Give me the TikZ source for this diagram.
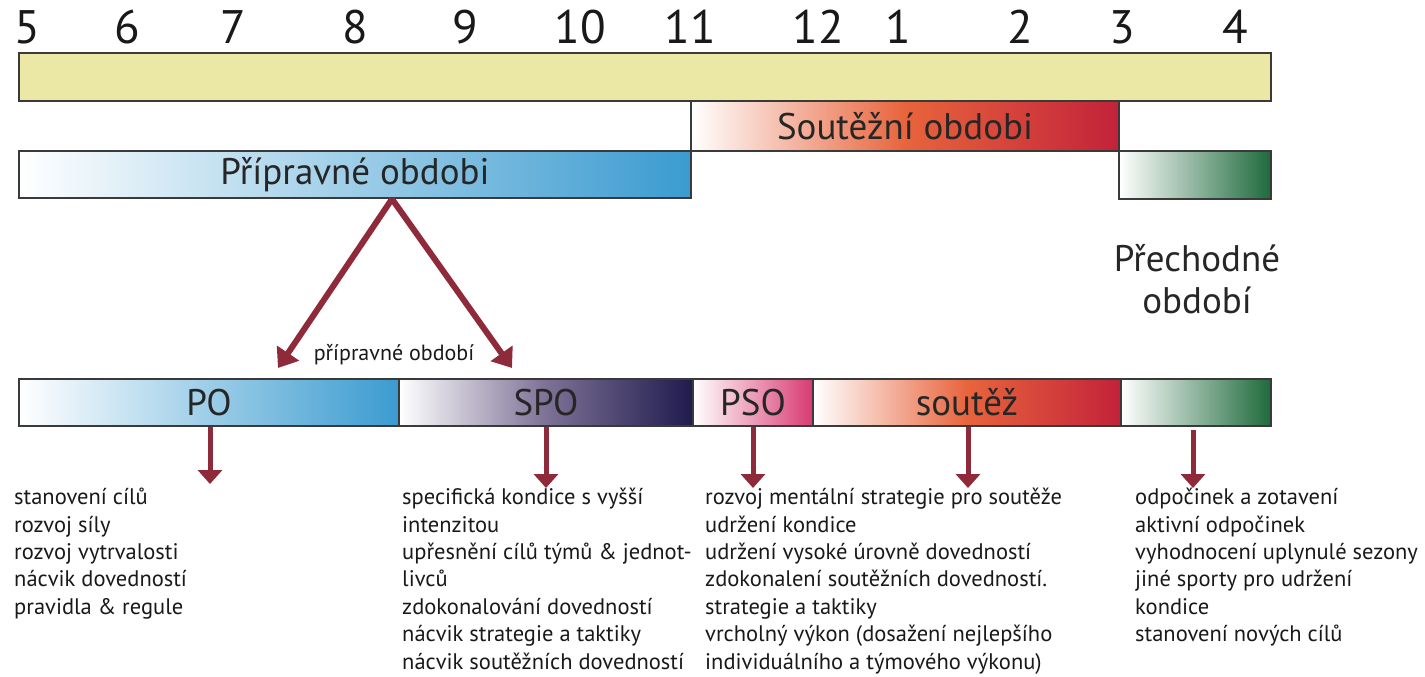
\documentclass[tikz,border=0pt]{standalone}
\usepackage{fontspec}
\setmainfont{PT Sans}
\usetikzlibrary{arrows.meta}
\definecolor{barline}{HTML}{3A3A3A}
\definecolor{yearfill}{HTML}{EBE7A4}
\definecolor{prepblue}{HTML}{3A9BD0}
\definecolor{spcnavy}{HTML}{1F1B4D}
\definecolor{spcmid}{HTML}{7D7196}
\definecolor{psopink}{HTML}{D93A72}
\definecolor{compor}{HTML}{E8643C}
\definecolor{compred}{HTML}{C2223A}
\definecolor{transgreen}{HTML}{1E6A3C}
\definecolor{arrred}{HTML}{8E2A3A}
\tikzset{
  bar/.style={draw=barline, line width=2pt, inner sep=0pt, anchor=north west,
    text=black!85, font=\fontsize{37}{42}\selectfont},
  month/.style={font=\fontsize{47}{52}\selectfont, text=black!90},
  % arrows from the preparation bar and down to the lists
  darr/.style={arrred, line width=6pt, -{Triangle[width=26pt,length=18pt]}},
  sarr/.style={arrred, line width=5pt, -{Triangle[width=24pt,length=14pt]}},
  items/.style={anchor=north west, inner sep=0pt, align=left,
    font=\fontsize{22.5}{27.4}\selectfont, text=black!90},
}
\begin{document}
\begin{tikzpicture}[x=1pt, y=-1pt]
  \useasboundingbox (0,0) rectangle (1425,677);
  % months
  \foreach \x/\m in {27/5,127/6,233/7,355/8,465/9,580/10,690/11,818/12,898/1,1020/2,1122/3,1235/4}
    \node[month] (m\m) at (\x,27) {\m};
  % season bars
  \node[bar, fill=yearfill, minimum width=1252pt, minimum height=48pt] (year) at (18,52) {};
  \node[bar, left color=white, right color=compred, middle color=compor,
    minimum width=428pt, minimum height=50pt] (comp) at (690,100) {Soutěžní obdobi};
  \node[bar, left color=white, right color=prepblue,
    minimum width=672pt, minimum height=47pt] (prep) at (18,150) {Přípravné obdobi};
  \node[bar, left color=white, right color=transgreen,
    minimum width=152pt, minimum height=48pt] (trans) at (1118,150) {};
  \node[align=center, font=\fontsize{37}{42}\selectfont, text=black!85] (translbl)
    at (1197,279) {Přechodné\\období};
  % split of the preparation period
  \coordinate (apex) at (392,199);
  \coordinate (poin) at (278,368);
  \coordinate (spoin) at (512,368);
  \draw[darr] (apex) -- (poin);
  \draw[darr] (apex) -- (spoin);
  \node[font=\fontsize{22}{24}\selectfont, text=black!90] (preplbl) at (394,355) {přípravné období};
  % detailed bars
  \node[bar, left color=white, right color=prepblue,
    minimum width=380pt, minimum height=47pt] (po) at (18,378) {PO};
  \node[bar, left color=white, right color=spcnavy, middle color=spcmid,
    minimum width=294pt, minimum height=47pt] (spo) at (398,378) {SPO};
  \node[bar, left color=white, right color=psopink,
    minimum width=120pt, minimum height=47pt] (pso) at (692,378) {PSO};
  \node[bar, left color=white, right color=compred, middle color=compor,
    minimum width=308pt, minimum height=47pt] (sout) at (812,378) {soutěž};
  \node[bar, left color=white, right color=transgreen,
    minimum width=150pt, minimum height=47pt] (prech) at (1120,378) {};
  % lists
  \node[items] (lpo) at (14,488) {stanovení cílů\\rozvoj síly\\rozvoj vytrvalosti\\nácvik dovedností\\pravidla \& regule};
  \node[items] (lspo) at (402,488) {specifická kondice s vyšší\\intenzitou\\upřesnění cílů týmů \& jednot-\\livců\\zdokonalování dovedností\\nácvik strategie a taktiky\\nácvik soutěžních dovedností};
  \node[items] (lsout) at (705,488) {rozvoj mentální strategie pro soutěže\\udržení kondice\\udržení vysoké úrovně dovedností\\zdokonalení soutěžních dovedností.\\strategie a taktiky\\vrcholný výkon (dosažení nejlepšího\\individuálního a týmového výkonu)};
  \node[items] (lprech) at (1135,488) {odpočinek a zotavení\\aktivní odpočinek\\vyhodnocení uplynulé sezony\\jiné sporty pro udržení\\kondice\\stanovení nových cílů};
  \draw[sarr] (po.south -| 210,0) -- (210,484);
  \draw[sarr] (spo.south) -- (spo.south |- lspo.north);
  \draw[sarr] (pso.south) -- (pso.south |- lsout.north);
  \draw[sarr] ([xshift=1pt]sout.south) -- ([xshift=1pt]sout.south |- lsout.north);
  \coordinate (prechtop) at (1193,430);
  \draw[sarr] (prechtop) -- (prechtop |- lprech.north);
\end{tikzpicture}
\end{document}
